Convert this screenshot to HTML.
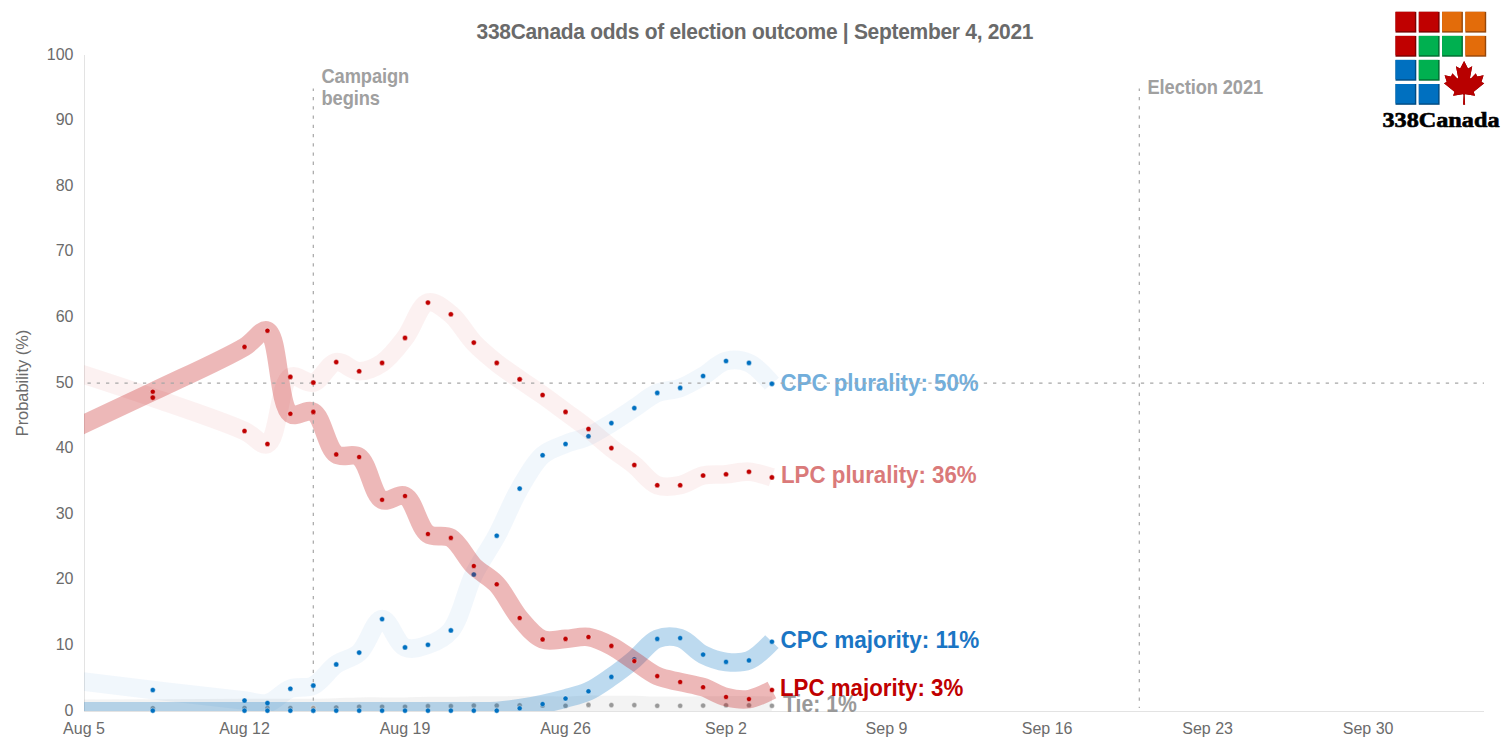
<!DOCTYPE html>
<html><head><meta charset="utf-8"><style>
html,body{margin:0;padding:0;background:#fff;width:1512px;height:756px;overflow:hidden}
svg{display:block}
.title{font-family:"Liberation Sans",sans-serif;font-weight:bold;font-size:21px;letter-spacing:-0.3px;fill:#6a6a6a}
.ax{font-family:"Liberation Sans",sans-serif;font-size:16px;fill:#6b6b6b}
.lab{font-family:"Liberation Sans",sans-serif;font-weight:bold;font-size:22.3px}
.ann{font-family:"Liberation Sans",sans-serif;font-weight:bold;font-size:18.3px;letter-spacing:-0.1px;fill:#a0a0a0}
.logo{font-family:"Liberation Serif",serif;font-weight:bold;font-size:24.2px;fill:#000;stroke:#000;stroke-width:0.7px}
</style></head><body>
<svg width="1512" height="756" viewBox="0 0 1512 756">
<defs><clipPath id="plot"><rect x="84" y="55" width="1400" height="656"/></clipPath></defs>
<rect width="1512" height="756" fill="#fff"/>
<text transform="translate(476.5,38.5) scale(1,1.065)" class="title">338Canada odds of election outcome | September 4, 2021</text>
<line x1="84.5" y1="55" x2="84.5" y2="711" stroke="#e3e3e3" stroke-width="1"/>
<line x1="84" y1="711.5" x2="1484" y2="711.5" stroke="#e3e3e3" stroke-width="1"/>
<text x="73.5" y="715.6" text-anchor="end" class="ax">0</text><text x="73.5" y="650.0" text-anchor="end" class="ax">10</text><text x="73.5" y="584.4" text-anchor="end" class="ax">20</text><text x="73.5" y="518.8" text-anchor="end" class="ax">30</text><text x="73.5" y="453.2" text-anchor="end" class="ax">40</text><text x="73.5" y="387.6" text-anchor="end" class="ax">50</text><text x="73.5" y="322.0" text-anchor="end" class="ax">60</text><text x="73.5" y="256.4" text-anchor="end" class="ax">70</text><text x="73.5" y="190.8" text-anchor="end" class="ax">80</text><text x="73.5" y="125.2" text-anchor="end" class="ax">90</text><text x="73.5" y="59.6" text-anchor="end" class="ax">100</text>
<text x="84.0" y="733.6" text-anchor="middle" class="ax">Aug 5</text><text x="244.5" y="733.6" text-anchor="middle" class="ax">Aug 12</text><text x="405.0" y="733.6" text-anchor="middle" class="ax">Aug 19</text><text x="565.5" y="733.6" text-anchor="middle" class="ax">Aug 26</text><text x="726.0" y="733.6" text-anchor="middle" class="ax">Sep 2</text><text x="886.5" y="733.6" text-anchor="middle" class="ax">Sep 9</text><text x="1047.1" y="733.6" text-anchor="middle" class="ax">Sep 16</text><text x="1207.6" y="733.6" text-anchor="middle" class="ax">Sep 23</text><text x="1368.1" y="733.6" text-anchor="middle" class="ax">Sep 30</text>
<text transform="translate(28.4,383) rotate(-90)" text-anchor="middle" class="ax" style="font-size:16.4px">Probability (%)</text>
<path d="M-7.72,708.66 C-7.72,708.66 106.72,708.76 152.79,708.64 C187.61,708.55 224.13,708.25 244.51,708.17 C254.70,708.12 259.80,708.12 267.44,708.10 C275.08,708.07 282.73,708.05 290.37,708.03 C298.01,708.01 305.66,708.09 313.30,708.00 C320.94,707.91 328.59,707.72 336.23,707.50 C343.87,707.28 351.52,706.83 359.16,706.70 C366.80,706.57 374.45,706.70 382.09,706.70 C389.73,706.70 397.38,706.80 405.02,706.70 C412.66,706.60 420.31,706.20 427.95,706.10 C435.59,706.00 443.24,706.18 450.88,706.10 C458.52,706.02 466.17,705.68 473.81,705.60 C481.45,705.52 489.10,705.65 496.74,705.60 C504.38,705.55 512.03,705.32 519.67,705.30 C527.31,705.28 534.96,705.42 542.60,705.50 C550.24,705.58 557.89,705.90 565.53,705.80 C573.17,705.70 580.82,705.02 588.46,704.90 C596.10,704.78 603.75,705.07 611.39,705.10 C619.03,705.13 626.68,704.98 634.32,705.10 C641.96,705.22 649.61,705.68 657.25,705.80 C664.89,705.92 672.54,705.83 680.18,705.80 C687.82,705.77 695.47,705.68 703.11,705.60 C710.75,705.52 718.40,705.35 726.04,705.30 C733.68,705.25 741.33,705.22 748.97,705.30 C756.61,705.38 771.90,705.80 771.90,705.80" fill="none" stroke="#7f7f7f" stroke-opacity="0.09" stroke-width="18.6" stroke-linecap="butt" stroke-linejoin="round" clip-path="url(#plot)"/><circle cx="152.79" cy="708.20" r="2.55" fill="#999999" stroke="#fff" stroke-opacity="0.4" stroke-width="1"/><circle cx="244.51" cy="708.00" r="2.55" fill="#999999" stroke="#fff" stroke-opacity="0.4" stroke-width="1"/><circle cx="267.44" cy="708.00" r="2.55" fill="#999999" stroke="#fff" stroke-opacity="0.4" stroke-width="1"/><circle cx="290.37" cy="708.00" r="2.55" fill="#999999" stroke="#fff" stroke-opacity="0.4" stroke-width="1"/><circle cx="313.30" cy="708.00" r="2.55" fill="#999999" stroke="#fff" stroke-opacity="0.4" stroke-width="1"/><circle cx="336.23" cy="707.50" r="2.55" fill="#999999" stroke="#fff" stroke-opacity="0.4" stroke-width="1"/><circle cx="359.16" cy="706.70" r="2.55" fill="#999999" stroke="#fff" stroke-opacity="0.4" stroke-width="1"/><circle cx="382.09" cy="706.70" r="2.55" fill="#999999" stroke="#fff" stroke-opacity="0.4" stroke-width="1"/><circle cx="405.02" cy="706.70" r="2.55" fill="#999999" stroke="#fff" stroke-opacity="0.4" stroke-width="1"/><circle cx="427.95" cy="706.10" r="2.55" fill="#999999" stroke="#fff" stroke-opacity="0.4" stroke-width="1"/><circle cx="450.88" cy="706.10" r="2.55" fill="#999999" stroke="#fff" stroke-opacity="0.4" stroke-width="1"/><circle cx="473.81" cy="705.60" r="2.55" fill="#999999" stroke="#fff" stroke-opacity="0.4" stroke-width="1"/><circle cx="496.74" cy="705.60" r="2.55" fill="#999999" stroke="#fff" stroke-opacity="0.4" stroke-width="1"/><circle cx="519.67" cy="705.30" r="2.55" fill="#999999" stroke="#fff" stroke-opacity="0.4" stroke-width="1"/><circle cx="542.60" cy="705.50" r="2.55" fill="#999999" stroke="#fff" stroke-opacity="0.4" stroke-width="1"/><circle cx="565.53" cy="705.80" r="2.55" fill="#999999" stroke="#fff" stroke-opacity="0.4" stroke-width="1"/><circle cx="588.46" cy="704.90" r="2.55" fill="#999999" stroke="#fff" stroke-opacity="0.4" stroke-width="1"/><circle cx="611.39" cy="705.10" r="2.55" fill="#999999" stroke="#fff" stroke-opacity="0.4" stroke-width="1"/><circle cx="634.32" cy="705.10" r="2.55" fill="#999999" stroke="#fff" stroke-opacity="0.4" stroke-width="1"/><circle cx="657.25" cy="705.80" r="2.55" fill="#999999" stroke="#fff" stroke-opacity="0.4" stroke-width="1"/><circle cx="680.18" cy="705.80" r="2.55" fill="#999999" stroke="#fff" stroke-opacity="0.4" stroke-width="1"/><circle cx="703.11" cy="705.60" r="2.55" fill="#999999" stroke="#fff" stroke-opacity="0.4" stroke-width="1"/><circle cx="726.04" cy="705.30" r="2.55" fill="#999999" stroke="#fff" stroke-opacity="0.4" stroke-width="1"/><circle cx="748.97" cy="705.30" r="2.55" fill="#999999" stroke="#fff" stroke-opacity="0.4" stroke-width="1"/><circle cx="771.90" cy="705.80" r="2.55" fill="#999999" stroke="#fff" stroke-opacity="0.4" stroke-width="1"/><path d="M-7.72,670.17 C-7.72,670.17 106.71,684.52 152.79,690.00 C187.60,694.14 224.13,698.18 244.51,700.50 C254.70,701.66 260.08,704.78 267.44,703.10 C275.41,701.28 282.40,691.59 290.37,688.70 C297.74,686.03 306.15,688.97 313.30,685.60 C321.61,681.69 328.18,670.03 336.23,664.40 C343.54,659.28 352.20,658.74 359.16,652.60 C367.89,644.90 374.23,619.42 382.09,619.10 C389.54,618.80 396.29,643.83 405.02,647.40 C411.97,650.25 420.59,647.38 427.95,644.80 C435.92,642.01 444.25,638.28 450.88,630.40 C460.78,618.63 465.52,591.17 473.81,574.50 C480.97,560.10 489.36,549.42 496.74,535.70 C504.69,520.91 511.47,502.68 519.67,488.60 C526.88,476.22 533.85,462.75 542.60,455.20 C549.55,449.21 557.78,447.19 565.53,444.00 C573.08,440.89 580.97,439.57 588.46,436.20 C596.28,432.68 603.82,427.74 611.39,423.10 C619.11,418.38 626.68,413.13 634.32,408.10 C641.97,403.06 649.28,396.27 657.25,392.90 C664.61,389.79 672.71,390.60 680.18,387.90 C688.02,385.07 695.58,380.40 703.11,376.00 C710.87,371.46 718.03,363.03 726.04,361.00 C733.38,359.14 741.82,359.78 748.97,362.90 C757.28,366.52 771.90,383.80 771.90,383.80" fill="none" stroke="#0070c0" stroke-opacity="0.055" stroke-width="18.6" stroke-linecap="butt" stroke-linejoin="round" clip-path="url(#plot)"/><circle cx="152.79" cy="690.00" r="2.55" fill="#0070c0" stroke="#fff" stroke-opacity="0.4" stroke-width="1"/><circle cx="244.51" cy="700.50" r="2.55" fill="#0070c0" stroke="#fff" stroke-opacity="0.4" stroke-width="1"/><circle cx="267.44" cy="703.10" r="2.55" fill="#0070c0" stroke="#fff" stroke-opacity="0.4" stroke-width="1"/><circle cx="290.37" cy="688.70" r="2.55" fill="#0070c0" stroke="#fff" stroke-opacity="0.4" stroke-width="1"/><circle cx="313.30" cy="685.60" r="2.55" fill="#0070c0" stroke="#fff" stroke-opacity="0.4" stroke-width="1"/><circle cx="336.23" cy="664.40" r="2.55" fill="#0070c0" stroke="#fff" stroke-opacity="0.4" stroke-width="1"/><circle cx="359.16" cy="652.60" r="2.55" fill="#0070c0" stroke="#fff" stroke-opacity="0.4" stroke-width="1"/><circle cx="382.09" cy="619.10" r="2.55" fill="#0070c0" stroke="#fff" stroke-opacity="0.4" stroke-width="1"/><circle cx="405.02" cy="647.40" r="2.55" fill="#0070c0" stroke="#fff" stroke-opacity="0.4" stroke-width="1"/><circle cx="427.95" cy="644.80" r="2.55" fill="#0070c0" stroke="#fff" stroke-opacity="0.4" stroke-width="1"/><circle cx="450.88" cy="630.40" r="2.55" fill="#0070c0" stroke="#fff" stroke-opacity="0.4" stroke-width="1"/><circle cx="473.81" cy="574.50" r="2.55" fill="#0070c0" stroke="#fff" stroke-opacity="0.4" stroke-width="1"/><circle cx="496.74" cy="535.70" r="2.55" fill="#0070c0" stroke="#fff" stroke-opacity="0.4" stroke-width="1"/><circle cx="519.67" cy="488.60" r="2.55" fill="#0070c0" stroke="#fff" stroke-opacity="0.4" stroke-width="1"/><circle cx="542.60" cy="455.20" r="2.55" fill="#0070c0" stroke="#fff" stroke-opacity="0.4" stroke-width="1"/><circle cx="565.53" cy="444.00" r="2.55" fill="#0070c0" stroke="#fff" stroke-opacity="0.4" stroke-width="1"/><circle cx="588.46" cy="436.20" r="2.55" fill="#0070c0" stroke="#fff" stroke-opacity="0.4" stroke-width="1"/><circle cx="611.39" cy="423.10" r="2.55" fill="#0070c0" stroke="#fff" stroke-opacity="0.4" stroke-width="1"/><circle cx="634.32" cy="408.10" r="2.55" fill="#0070c0" stroke="#fff" stroke-opacity="0.4" stroke-width="1"/><circle cx="657.25" cy="392.90" r="2.55" fill="#0070c0" stroke="#fff" stroke-opacity="0.4" stroke-width="1"/><circle cx="680.18" cy="387.90" r="2.55" fill="#0070c0" stroke="#fff" stroke-opacity="0.4" stroke-width="1"/><circle cx="703.11" cy="376.00" r="2.55" fill="#0070c0" stroke="#fff" stroke-opacity="0.4" stroke-width="1"/><circle cx="726.04" cy="361.00" r="2.55" fill="#0070c0" stroke="#fff" stroke-opacity="0.4" stroke-width="1"/><circle cx="748.97" cy="362.90" r="2.55" fill="#0070c0" stroke="#fff" stroke-opacity="0.4" stroke-width="1"/><circle cx="771.90" cy="383.80" r="2.55" fill="#0070c0" stroke="#fff" stroke-opacity="0.4" stroke-width="1"/><path d="M-7.72,345.33 C-7.72,345.33 106.84,381.76 152.79,397.60 C187.73,409.65 224.38,421.71 244.51,431.00 C254.97,435.83 260.93,446.47 267.44,444.00 C278.12,439.94 279.18,383.00 290.37,376.90 C296.83,373.38 306.10,384.38 313.30,382.60 C321.52,380.56 328.12,363.54 336.23,362.10 C343.50,360.81 351.49,371.08 359.16,371.20 C366.78,371.32 374.98,367.64 382.09,362.90 C390.48,357.31 397.75,347.29 405.02,337.90 C413.12,327.44 419.11,304.97 427.95,302.60 C434.86,300.75 443.79,308.56 450.88,314.30 C459.31,321.13 465.81,334.24 473.81,342.60 C481.15,350.27 488.93,356.68 496.74,362.90 C504.23,368.87 512.00,373.93 519.67,379.30 C527.29,384.63 535.00,389.60 542.60,395.00 C550.29,400.46 557.89,406.24 565.53,411.90 C573.18,417.57 580.90,423.04 588.46,429.00 C596.19,435.09 603.66,442.04 611.39,448.10 C618.95,454.02 626.81,458.94 634.32,465.00 C642.10,471.28 648.97,482.07 657.25,485.20 C664.42,487.91 672.69,486.72 680.18,485.20 C687.99,483.62 695.31,477.30 703.11,475.50 C710.60,473.77 718.41,474.93 726.04,474.30 C733.69,473.67 741.37,471.20 748.97,471.70 C756.66,472.20 771.90,477.40 771.90,477.40" fill="none" stroke="#c00000" stroke-opacity="0.055" stroke-width="18.6" stroke-linecap="butt" stroke-linejoin="round" clip-path="url(#plot)"/><circle cx="152.79" cy="397.60" r="2.55" fill="#c00000" stroke="#fff" stroke-opacity="0.4" stroke-width="1"/><circle cx="244.51" cy="431.00" r="2.55" fill="#c00000" stroke="#fff" stroke-opacity="0.4" stroke-width="1"/><circle cx="267.44" cy="444.00" r="2.55" fill="#c00000" stroke="#fff" stroke-opacity="0.4" stroke-width="1"/><circle cx="290.37" cy="376.90" r="2.55" fill="#c00000" stroke="#fff" stroke-opacity="0.4" stroke-width="1"/><circle cx="313.30" cy="382.60" r="2.55" fill="#c00000" stroke="#fff" stroke-opacity="0.4" stroke-width="1"/><circle cx="336.23" cy="362.10" r="2.55" fill="#c00000" stroke="#fff" stroke-opacity="0.4" stroke-width="1"/><circle cx="359.16" cy="371.20" r="2.55" fill="#c00000" stroke="#fff" stroke-opacity="0.4" stroke-width="1"/><circle cx="382.09" cy="362.90" r="2.55" fill="#c00000" stroke="#fff" stroke-opacity="0.4" stroke-width="1"/><circle cx="405.02" cy="337.90" r="2.55" fill="#c00000" stroke="#fff" stroke-opacity="0.4" stroke-width="1"/><circle cx="427.95" cy="302.60" r="2.55" fill="#c00000" stroke="#fff" stroke-opacity="0.4" stroke-width="1"/><circle cx="450.88" cy="314.30" r="2.55" fill="#c00000" stroke="#fff" stroke-opacity="0.4" stroke-width="1"/><circle cx="473.81" cy="342.60" r="2.55" fill="#c00000" stroke="#fff" stroke-opacity="0.4" stroke-width="1"/><circle cx="496.74" cy="362.90" r="2.55" fill="#c00000" stroke="#fff" stroke-opacity="0.4" stroke-width="1"/><circle cx="519.67" cy="379.30" r="2.55" fill="#c00000" stroke="#fff" stroke-opacity="0.4" stroke-width="1"/><circle cx="542.60" cy="395.00" r="2.55" fill="#c00000" stroke="#fff" stroke-opacity="0.4" stroke-width="1"/><circle cx="565.53" cy="411.90" r="2.55" fill="#c00000" stroke="#fff" stroke-opacity="0.4" stroke-width="1"/><circle cx="588.46" cy="429.00" r="2.55" fill="#c00000" stroke="#fff" stroke-opacity="0.4" stroke-width="1"/><circle cx="611.39" cy="448.10" r="2.55" fill="#c00000" stroke="#fff" stroke-opacity="0.4" stroke-width="1"/><circle cx="634.32" cy="465.00" r="2.55" fill="#c00000" stroke="#fff" stroke-opacity="0.4" stroke-width="1"/><circle cx="657.25" cy="485.20" r="2.55" fill="#c00000" stroke="#fff" stroke-opacity="0.4" stroke-width="1"/><circle cx="680.18" cy="485.20" r="2.55" fill="#c00000" stroke="#fff" stroke-opacity="0.4" stroke-width="1"/><circle cx="703.11" cy="475.50" r="2.55" fill="#c00000" stroke="#fff" stroke-opacity="0.4" stroke-width="1"/><circle cx="726.04" cy="474.30" r="2.55" fill="#c00000" stroke="#fff" stroke-opacity="0.4" stroke-width="1"/><circle cx="748.97" cy="471.70" r="2.55" fill="#c00000" stroke="#fff" stroke-opacity="0.4" stroke-width="1"/><circle cx="771.90" cy="477.40" r="2.55" fill="#c00000" stroke="#fff" stroke-opacity="0.4" stroke-width="1"/><path d="M-7.72,711.40 C-7.72,711.40 106.72,711.40 152.79,711.40 C187.61,711.40 224.13,711.40 244.51,711.40 C254.70,711.40 259.80,711.40 267.44,711.40 C275.08,711.40 282.73,711.40 290.37,711.40 C298.01,711.40 305.66,711.40 313.30,711.40 C320.94,711.40 328.59,711.40 336.23,711.40 C343.87,711.40 351.52,711.40 359.16,711.40 C366.80,711.40 374.45,711.40 382.09,711.40 C389.73,711.40 397.38,711.40 405.02,711.40 C412.66,711.40 420.31,711.40 427.95,711.40 C435.59,711.40 443.24,711.43 450.88,711.40 C458.52,711.37 466.17,711.30 473.81,711.22 C481.45,711.13 489.11,711.39 496.74,710.91 C504.40,710.43 512.05,709.44 519.67,708.30 C527.33,707.17 534.98,705.73 542.60,704.10 C550.27,702.46 557.92,700.62 565.53,698.50 C573.21,696.36 581.03,694.73 588.46,691.30 C596.35,687.66 603.87,682.13 611.39,676.90 C619.16,671.49 626.79,665.53 634.32,659.30 C642.08,652.88 648.96,642.22 657.25,638.90 C664.41,636.03 672.89,635.89 680.18,638.10 C688.26,640.55 695.13,650.59 703.11,654.60 C710.47,658.30 718.31,660.96 726.04,661.90 C733.60,662.82 741.75,663.24 748.97,660.40 C757.16,657.18 771.90,641.70 771.90,641.70" fill="none" stroke="#0070c0" stroke-opacity="0.26" stroke-width="18.6" stroke-linecap="butt" stroke-linejoin="round" clip-path="url(#plot)"/><circle cx="152.79" cy="710.60" r="2.55" fill="#0070c0" stroke="#fff" stroke-opacity="0.4" stroke-width="1"/><circle cx="244.51" cy="710.60" r="2.55" fill="#0070c0" stroke="#fff" stroke-opacity="0.4" stroke-width="1"/><circle cx="267.44" cy="710.60" r="2.55" fill="#0070c0" stroke="#fff" stroke-opacity="0.4" stroke-width="1"/><circle cx="290.37" cy="710.60" r="2.55" fill="#0070c0" stroke="#fff" stroke-opacity="0.4" stroke-width="1"/><circle cx="313.30" cy="710.60" r="2.55" fill="#0070c0" stroke="#fff" stroke-opacity="0.4" stroke-width="1"/><circle cx="336.23" cy="710.60" r="2.55" fill="#0070c0" stroke="#fff" stroke-opacity="0.4" stroke-width="1"/><circle cx="359.16" cy="710.60" r="2.55" fill="#0070c0" stroke="#fff" stroke-opacity="0.4" stroke-width="1"/><circle cx="382.09" cy="710.60" r="2.55" fill="#0070c0" stroke="#fff" stroke-opacity="0.4" stroke-width="1"/><circle cx="405.02" cy="710.60" r="2.55" fill="#0070c0" stroke="#fff" stroke-opacity="0.4" stroke-width="1"/><circle cx="427.95" cy="710.60" r="2.55" fill="#0070c0" stroke="#fff" stroke-opacity="0.4" stroke-width="1"/><circle cx="450.88" cy="710.60" r="2.55" fill="#0070c0" stroke="#fff" stroke-opacity="0.4" stroke-width="1"/><circle cx="473.81" cy="710.60" r="2.55" fill="#0070c0" stroke="#fff" stroke-opacity="0.4" stroke-width="1"/><circle cx="496.74" cy="710.60" r="2.55" fill="#0070c0" stroke="#fff" stroke-opacity="0.4" stroke-width="1"/><circle cx="519.67" cy="708.30" r="2.55" fill="#0070c0" stroke="#fff" stroke-opacity="0.4" stroke-width="1"/><circle cx="542.60" cy="704.10" r="2.55" fill="#0070c0" stroke="#fff" stroke-opacity="0.4" stroke-width="1"/><circle cx="565.53" cy="698.50" r="2.55" fill="#0070c0" stroke="#fff" stroke-opacity="0.4" stroke-width="1"/><circle cx="588.46" cy="691.30" r="2.55" fill="#0070c0" stroke="#fff" stroke-opacity="0.4" stroke-width="1"/><circle cx="611.39" cy="676.90" r="2.55" fill="#0070c0" stroke="#fff" stroke-opacity="0.4" stroke-width="1"/><circle cx="634.32" cy="659.30" r="2.55" fill="#0070c0" stroke="#fff" stroke-opacity="0.4" stroke-width="1"/><circle cx="657.25" cy="638.90" r="2.55" fill="#0070c0" stroke="#fff" stroke-opacity="0.4" stroke-width="1"/><circle cx="680.18" cy="638.10" r="2.55" fill="#0070c0" stroke="#fff" stroke-opacity="0.4" stroke-width="1"/><circle cx="703.11" cy="654.60" r="2.55" fill="#0070c0" stroke="#fff" stroke-opacity="0.4" stroke-width="1"/><circle cx="726.04" cy="661.90" r="2.55" fill="#0070c0" stroke="#fff" stroke-opacity="0.4" stroke-width="1"/><circle cx="748.97" cy="660.40" r="2.55" fill="#0070c0" stroke="#fff" stroke-opacity="0.4" stroke-width="1"/><circle cx="771.90" cy="641.70" r="2.55" fill="#0070c0" stroke="#fff" stroke-opacity="0.4" stroke-width="1"/><path d="M-7.72,466.60 C-7.72,466.60 106.81,413.66 152.79,391.70 C187.70,375.03 224.43,358.79 244.51,346.90 C255.04,340.66 260.99,328.39 267.44,330.70 C278.74,334.74 278.01,405.17 290.37,413.80 C296.75,418.26 306.62,408.28 313.30,411.90 C322.97,417.14 326.57,447.87 336.23,454.40 C342.91,458.92 352.49,452.47 359.16,457.00 C368.84,463.57 372.43,495.05 382.09,499.80 C388.77,503.09 398.26,492.89 405.02,496.00 C414.36,500.30 418.62,527.64 427.95,534.00 C434.71,538.60 443.91,533.84 450.88,537.90 C459.58,542.97 465.72,557.99 473.81,566.00 C481.09,573.20 489.63,576.63 496.74,584.30 C505.12,593.35 511.46,608.42 519.67,618.00 C526.87,626.40 534.26,636.22 542.60,639.40 C549.73,642.12 557.89,639.30 565.53,638.90 C573.18,638.50 580.94,635.91 588.46,637.00 C596.24,638.13 603.95,642.05 611.39,645.90 C619.26,649.98 626.67,656.06 634.32,661.10 C641.96,666.13 649.31,672.59 657.25,676.10 C664.63,679.36 672.52,680.15 680.18,682.00 C687.81,683.85 695.58,684.76 703.11,687.20 C710.87,689.71 718.24,695.03 726.04,697.00 C733.54,698.90 741.45,700.18 748.97,699.10 C756.75,697.98 771.90,690.00 771.90,690.00" fill="none" stroke="#c00000" stroke-opacity="0.28" stroke-width="18.6" stroke-linecap="butt" stroke-linejoin="round" clip-path="url(#plot)"/><circle cx="152.79" cy="391.70" r="2.55" fill="#c00000" stroke="#fff" stroke-opacity="0.4" stroke-width="1"/><circle cx="244.51" cy="346.90" r="2.55" fill="#c00000" stroke="#fff" stroke-opacity="0.4" stroke-width="1"/><circle cx="267.44" cy="330.70" r="2.55" fill="#c00000" stroke="#fff" stroke-opacity="0.4" stroke-width="1"/><circle cx="290.37" cy="413.80" r="2.55" fill="#c00000" stroke="#fff" stroke-opacity="0.4" stroke-width="1"/><circle cx="313.30" cy="411.90" r="2.55" fill="#c00000" stroke="#fff" stroke-opacity="0.4" stroke-width="1"/><circle cx="336.23" cy="454.40" r="2.55" fill="#c00000" stroke="#fff" stroke-opacity="0.4" stroke-width="1"/><circle cx="359.16" cy="457.00" r="2.55" fill="#c00000" stroke="#fff" stroke-opacity="0.4" stroke-width="1"/><circle cx="382.09" cy="499.80" r="2.55" fill="#c00000" stroke="#fff" stroke-opacity="0.4" stroke-width="1"/><circle cx="405.02" cy="496.00" r="2.55" fill="#c00000" stroke="#fff" stroke-opacity="0.4" stroke-width="1"/><circle cx="427.95" cy="534.00" r="2.55" fill="#c00000" stroke="#fff" stroke-opacity="0.4" stroke-width="1"/><circle cx="450.88" cy="537.90" r="2.55" fill="#c00000" stroke="#fff" stroke-opacity="0.4" stroke-width="1"/><circle cx="473.81" cy="566.00" r="2.55" fill="#c00000" stroke="#fff" stroke-opacity="0.4" stroke-width="1"/><circle cx="496.74" cy="584.30" r="2.55" fill="#c00000" stroke="#fff" stroke-opacity="0.4" stroke-width="1"/><circle cx="519.67" cy="618.00" r="2.55" fill="#c00000" stroke="#fff" stroke-opacity="0.4" stroke-width="1"/><circle cx="542.60" cy="639.40" r="2.55" fill="#c00000" stroke="#fff" stroke-opacity="0.4" stroke-width="1"/><circle cx="565.53" cy="638.90" r="2.55" fill="#c00000" stroke="#fff" stroke-opacity="0.4" stroke-width="1"/><circle cx="588.46" cy="637.00" r="2.55" fill="#c00000" stroke="#fff" stroke-opacity="0.4" stroke-width="1"/><circle cx="611.39" cy="645.90" r="2.55" fill="#c00000" stroke="#fff" stroke-opacity="0.4" stroke-width="1"/><circle cx="634.32" cy="661.10" r="2.55" fill="#c00000" stroke="#fff" stroke-opacity="0.4" stroke-width="1"/><circle cx="657.25" cy="676.10" r="2.55" fill="#c00000" stroke="#fff" stroke-opacity="0.4" stroke-width="1"/><circle cx="680.18" cy="682.00" r="2.55" fill="#c00000" stroke="#fff" stroke-opacity="0.4" stroke-width="1"/><circle cx="703.11" cy="687.20" r="2.55" fill="#c00000" stroke="#fff" stroke-opacity="0.4" stroke-width="1"/><circle cx="726.04" cy="697.00" r="2.55" fill="#c00000" stroke="#fff" stroke-opacity="0.4" stroke-width="1"/><circle cx="748.97" cy="699.10" r="2.55" fill="#c00000" stroke="#fff" stroke-opacity="0.4" stroke-width="1"/><circle cx="771.90" cy="690.00" r="2.55" fill="#c00000" stroke="#fff" stroke-opacity="0.4" stroke-width="1"/>
<text transform="translate(780.5,391) scale(1,1.09)" class="lab" fill="#72aedb">CPC plurality: 50%</text>
<text transform="translate(781,483.2) scale(1,1.09)" class="lab" fill="#da7a7a">LPC plurality: 36%</text>
<text transform="translate(780.5,647.5) scale(1,1.09)" class="lab" style="font-size:22.5px" fill="#1a75c4">CPC majority: 11%</text>
<text transform="translate(783,711.8) scale(1,1.09)" class="lab" style="font-size:21.2px" fill="#999999">Tie: 1%</text>
<text transform="translate(780,696) scale(1,1.09)" class="lab" fill="#c00000">LPC majority: 3%</text>
<line x1="84" y1="383.2" x2="1484" y2="383.2" stroke="#a6a6a6" stroke-width="1.2" stroke-dasharray="3.3 5.94" stroke-dashoffset="-3.5"/>
<line x1="313.3" y1="88.4" x2="313.3" y2="708" stroke="#a6a6a6" stroke-width="1.2" stroke-dasharray="3.3 5.94" stroke-dashoffset="0.7"/>
<line x1="1139.3" y1="88.4" x2="1139.3" y2="708" stroke="#a6a6a6" stroke-width="1.2" stroke-dasharray="3.3 5.94" stroke-dashoffset="0.7"/>
<circle cx="313.30" cy="708.00" r="2.55" fill="#999999" stroke="#fff" stroke-opacity="0.4" stroke-width="1"/><circle cx="313.30" cy="685.60" r="2.55" fill="#0070c0" stroke="#fff" stroke-opacity="0.4" stroke-width="1"/><circle cx="771.90" cy="383.80" r="2.55" fill="#0070c0" stroke="#fff" stroke-opacity="0.4" stroke-width="1"/><circle cx="313.30" cy="382.60" r="2.55" fill="#c00000" stroke="#fff" stroke-opacity="0.4" stroke-width="1"/><circle cx="519.67" cy="379.30" r="2.55" fill="#c00000" stroke="#fff" stroke-opacity="0.4" stroke-width="1"/><circle cx="313.30" cy="710.60" r="2.55" fill="#0070c0" stroke="#fff" stroke-opacity="0.4" stroke-width="1"/><circle cx="313.30" cy="411.90" r="2.55" fill="#c00000" stroke="#fff" stroke-opacity="0.4" stroke-width="1"/>
<text transform="translate(321.5,83) scale(1,1.1)" class="ann">Campaign</text>
<text transform="translate(321.5,105.1) scale(1,1.1)" class="ann">begins</text>
<text transform="translate(1147.5,93.9) scale(1,1.1)" class="ann">Election 2021</text>
<rect x="1395.5" y="11.8" width="20.8" height="20.8" fill="#7a0000"/><rect x="1395.5" y="11.8" width="19.4" height="19.4" fill="#c00000"/><rect x="1418.8" y="11.8" width="20.8" height="20.8" fill="#7a0000"/><rect x="1418.8" y="11.8" width="19.4" height="19.4" fill="#c00000"/><rect x="1442.1" y="11.8" width="20.8" height="20.8" fill="#96470a"/><rect x="1442.1" y="11.8" width="19.4" height="19.4" fill="#e36c0a"/><rect x="1465.4" y="11.8" width="20.8" height="20.8" fill="#96470a"/><rect x="1465.4" y="11.8" width="19.4" height="19.4" fill="#e36c0a"/><rect x="1395.5" y="35.9" width="20.8" height="20.8" fill="#7a0000"/><rect x="1395.5" y="35.9" width="19.4" height="19.4" fill="#c00000"/><rect x="1418.8" y="35.9" width="20.8" height="20.8" fill="#006b30"/><rect x="1418.8" y="35.9" width="19.4" height="19.4" fill="#00b050"/><rect x="1442.1" y="35.9" width="20.8" height="20.8" fill="#006b30"/><rect x="1442.1" y="35.9" width="19.4" height="19.4" fill="#00b050"/><rect x="1465.4" y="35.9" width="20.8" height="20.8" fill="#96470a"/><rect x="1465.4" y="35.9" width="19.4" height="19.4" fill="#e36c0a"/><rect x="1395.5" y="59.9" width="20.8" height="20.8" fill="#004a80"/><rect x="1395.5" y="59.9" width="19.4" height="19.4" fill="#0070c0"/><rect x="1418.8" y="59.9" width="20.8" height="20.8" fill="#006b30"/><rect x="1418.8" y="59.9" width="19.4" height="19.4" fill="#00b050"/><rect x="1395.5" y="84.0" width="20.8" height="20.8" fill="#004a80"/><rect x="1395.5" y="84.0" width="19.4" height="19.4" fill="#0070c0"/><rect x="1418.8" y="84.0" width="20.8" height="20.8" fill="#004a80"/><rect x="1418.8" y="84.0" width="19.4" height="19.4" fill="#0070c0"/><text transform="translate(1441,126.6) scale(1,0.9)" text-anchor="middle" class="logo">338Canada</text><path transform="translate(1412.16,56.67) scale(0.01083)" d="M4890,4430 l-45,-863 a95,95 0 0 1 111,-98 l859,151 -116,-320 a65,65 0 0 1 20,-73 l941,-762 -212,-99 a65,65 0 0 1 -34,-79 l186,-572 -542,115 a65,65 0 0 1 -73,-38 l-105,-247 -423,454 a65,65 0 0 1 -111,-57 l204,-1052 -327,189 a65,65 0 0 1 -91,-27 l-332,-652 -332,652 a65,65 0 0 1 -91,27 l-327,-189 204,1052 a65,65 0 0 1 -111,57 l-423,-454 -105,247 a65,65 0 0 1 -73,38 l-542,-115 186,572 a65,65 0 0 1 -34,79 l-212,99 941,762 a65,65 0 0 1 20,73 l-116,320 859,-151 a95,95 0 0 1 111,98 l-45,863 z" fill="#7a0000"/><path transform="translate(1412.06,56.57) scale(0.01083)" d="M4890,4430 l-45,-863 a95,95 0 0 1 111,-98 l859,151 -116,-320 a65,65 0 0 1 20,-73 l941,-762 -212,-99 a65,65 0 0 1 -34,-79 l186,-572 -542,115 a65,65 0 0 1 -73,-38 l-105,-247 -423,454 a65,65 0 0 1 -111,-57 l204,-1052 -327,189 a65,65 0 0 1 -91,-27 l-332,-652 -332,652 a65,65 0 0 1 -91,27 l-327,-189 204,1052 a65,65 0 0 1 -111,57 l-423,-454 -105,247 a65,65 0 0 1 -73,38 l-542,-115 186,572 a65,65 0 0 1 -34,79 l-212,99 941,762 a65,65 0 0 1 20,73 l-116,320 859,-151 a95,95 0 0 1 111,98 l-45,863 z" fill="#b80000"/>
</svg>
</body></html>
